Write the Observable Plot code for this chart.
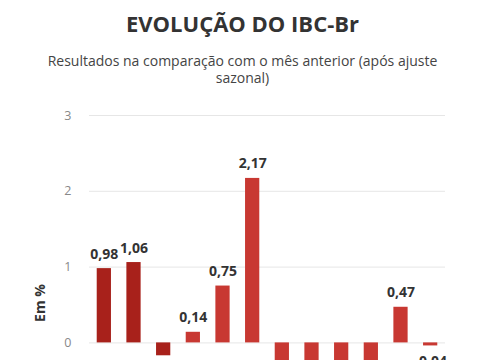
<!DOCTYPE html>
<html>
<head>
<meta charset="utf-8">
<script src="https://cdn.jsdelivr.net/npm/d3@7"></script>
<script src="https://cdn.jsdelivr.net/npm/@observablehq/plot@0.6"></script>
<style>
  html, body { margin: 0; padding: 0; background: #fff; }
  body { width: 485px; font-family: "Open Sans", sans-serif; overflow: hidden; }
  #title { position: absolute; top: 8px; left: 0; width: 485px; text-align: center;
           font-size: 22px; font-weight: 700; color: #333; line-height: 30px; }
  #subtitle { position: absolute; top: 52px; left: 0; width: 485px; text-align: center;
              font-size: 14px; color: #444; line-height: 17px; }
  #chart { position: absolute; top: 100px; left: 0; }
</style>
</head>
<body>
<div id="title">EVOLUÇÃO DO IBC-Br</div>
<div id="subtitle">Resultados na comparação com o mês anterior (após ajuste<br>sazonal)</div>
<div id="chart"></div>
<script>
const meses = ["out", "nov", "dez", "jan", "fev", "mar", "abr", "mai", "jun", "jul", "ago", "set"];
const anos = ["ano anterior", "ano anterior", "ano anterior", "ano atual", "ano atual", "ano atual",
              "ano atual", "ano atual", "ano atual", "ano atual", "ano atual", "ano atual"];
const valores = [0.98, 1.06, -0.17, 0.14, 0.75, 2.17, -1.24, -0.62, -0.5, -0.93, 0.47, -0.04];
const yTicks = [-2, -1, 0, 1, 2, 3];

const data = meses.map((m, i) => ({mes: m, ano: anos[i], valor: valores[i]}));
const fmt = v => v.toFixed(2).replace(".", ",");

const chart = Plot.plot({
  width: 485,
  height: 435,
  marginLeft: 89,
  marginRight: 40,
  marginTop: 15,
  marginBottom: 41,
  style: {fontFamily: "Open Sans, sans-serif", fontSize: "12px", color: "#888", background: "#fff"},
  x: {domain: meses, paddingInner: 0.52, paddingOuter: 0.26, round: false, label: null},
  y: {domain: [-2, 3], label: null},
  color: {domain: ["ano anterior", "ano atual"], range: ["#a8211b", "#c83832"]},
  marks: [
    Plot.gridY(yTicks, {stroke: "#e6e6e6", strokeOpacity: 1, strokeWidth: 1}),
    Plot.axisY({ticks: yTicks, tickSize: 0, tickPadding: 18, label: null, fill: "#888", fontSize: 12.5, tickFormat: d => String(d)}),
    Plot.axisX({tickSize: 0, tickPadding: 8, label: null, fill: "#888", fontSize: 12}),
    Plot.text(["Em %"], {frameAnchor: "left", rotate: -90, dx: -49, dy: -2, textAnchor: "middle", lineAnchor: "middle",
      fontWeight: 700, fontSize: 14, fill: "#333"}),
    Plot.barY(data, {x: "mes", y: "valor", fill: "ano"}),
    Plot.text(data.filter(d => d.valor >= 0), {x: "mes", y: "valor", text: d => fmt(d.valor),
      lineAnchor: "bottom", dy: -10, fontWeight: 700, fontSize: 14, fill: "#333"}),
    Plot.text(data.filter(d => d.valor < 0), {x: "mes", y: "valor", text: d => fmt(d.valor),
      lineAnchor: "top", dy: 10, fontWeight: 700, fontSize: 14, fill: "#333"})
  ]
});
document.getElementById("chart").appendChild(chart);
</script>
</body>
</html>
